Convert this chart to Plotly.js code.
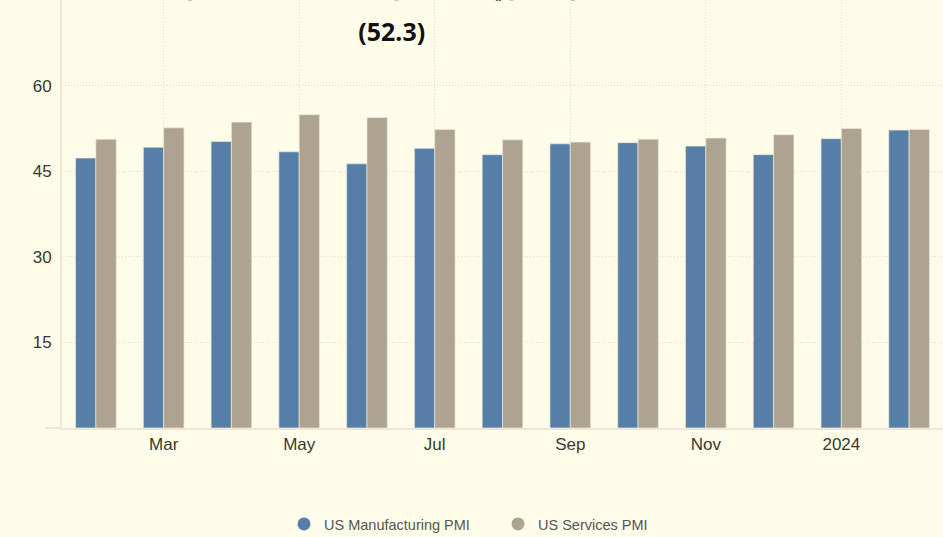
<!DOCTYPE html>
<html>
<head>
<meta charset="utf-8">
<script src="https://cdn.plot.ly/plotly-3.0.1.min.js"></script>
<style>
html,body{margin:0;padding:0;background:#FFFDE9;}
#chart{width:943px;height:537px;}
</style>
</head>
<body>
<div id="chart"></div>
<script>
var months = ['2023-02','2023-03','2023-04','2023-05','2023-06','2023-07','2023-08','2023-09','2023-10','2023-11','2023-12','2024-01','2024-02'];
var manufacturing = [47.3, 49.2, 50.2, 48.4, 46.3, 49.0, 47.9, 49.8, 50.0, 49.4, 47.9, 50.7, 52.2];
var services = [50.6, 52.6, 53.6, 54.9, 54.4, 52.3, 50.5, 50.1, 50.6, 50.8, 51.4, 52.5, 52.3];
var tickMonths = ['2023-03','2023-05','2023-07','2023-09','2023-11','2024-01'];
var tickLabels = ['Mar','May','Jul','Sep','Nov','2024'];
var yTicks = [15, 30, 45, 60];
var seriesNames = ['US Manufacturing PMI','US Services PMI'];
var titleLine1 = 'مؤشر مديري المشتريات الخدمي الأمريكي';
var titleLine2 = '(52.3)';

var blue = '#567FA8';
var grey = '#AEA290';

var data = [
  {type:'bar', x:months, y:manufacturing, name:seriesNames[0], showlegend:false,
   marker:{color:blue, line:{color:'rgba(235,232,215,0.7)', width:1}}},
  {type:'bar', x:months, y:services, name:seriesNames[1], showlegend:false,
   marker:{color:grey, line:{color:'rgba(235,232,215,0.7)', width:1}}},
  {type:'scatter', mode:'markers', x:[null], y:[null], name:seriesNames[0],
   marker:{color:blue, size:13, symbol:'circle'}},
  {type:'scatter', mode:'markers', x:[null], y:[null], name:seriesNames[1],
   marker:{color:grey, size:13, symbol:'circle'}}
];

var layout = {
  width:943, height:537,
  paper_bgcolor:'#FFFDE9', plot_bgcolor:'#FFFDE9',
  margin:{l:62, r:0, t:0, b:109},
  font:{family:'Liberation Sans, Arial, sans-serif', color:'#3a3631', size:17},
  annotations:[{text:'<span style="font-size:25px">' + titleLine1 + '</span><br><span style="font-size:25px">' + titleLine2 + '</span>',
         font:{family:'Noto Sans, DejaVu Sans, sans-serif', size:36, color:'#111', weight:'bold'},
         xref:'paper', yref:'paper', x:(392-62)/881, xanchor:'center', y:1-50/428, yanchor:'bottom',
         showarrow:false, align:'center'}],
  barmode:'group', bargap:0.4, bargroupgap:0,
  xaxis:{type:'category', categoryorder:'array', categoryarray:months,
         tickvals:tickMonths, ticktext:tickLabels, range:[-0.5, 12.5],
         showgrid:true, gridcolor:'#F0D8CE', griddash:'1px,2px', gridwidth:1,
         showline:true, linecolor:'#F3E4D6', linewidth:2, ticks:'', tickfont:{size:17, color:'#3a3631'}},
  yaxis:{range:[0, 75], tickvals:yTicks, showgrid:true, gridcolor:'#F0D8CE', griddash:'1px,2px', gridwidth:1,
         zeroline:false, showline:true, linecolor:'#F3E4D6', linewidth:2,
         ticks:'outside', ticklen:5, tickcolor:'rgba(0,0,0,0)', tickfont:{size:17, color:'#3a3631'}},
  legend:{orientation:'h', x:284/943, xanchor:'left', xref:'container', y:13/537, yanchor:'middle', yref:'container',
          font:{size:14.5, color:'#555'}, bgcolor:'rgba(0,0,0,0)', entrywidth:169, entrywidthmode:'pixels'},
  shapes:[{type:'line', xref:'paper', yref:'paper', x0:-17/881, x1:0, y0:0, y1:0,
           line:{color:'#F3E4D6', width:2}}],
  showlegend:true
};

Plotly.newPlot('chart', data, layout, {displayModeBar:false, responsive:false});
</script>
</body>
</html>
